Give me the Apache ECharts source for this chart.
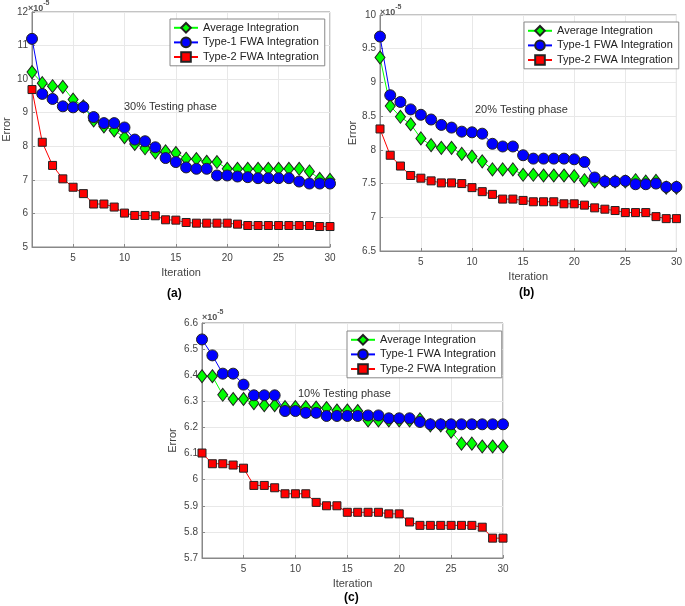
<!DOCTYPE html>
<html>
<head>
<meta charset="utf-8">
<script src="https://cdn.jsdelivr.net/npm/echarts@6/dist/echarts.min.js"></script>
<style>
html,body{margin:0;padding:0;background:#fff;}
#chart{width:685px;height:606px;}
</style>
</head>
<body>
<div id="chart"></div>
<script>
// ---- data (values in units of 1e-5) ----
var iterations = ['1','2','3','4','5','6','7','8','9','10','11','12','13','14','15','16','17','18','19','20','21','22','23','24','25','26','27','28','29','30'];
var seriesNames = ['Average Integration', 'Type-1 FWA Integration', 'Type-2 FWA Integration'];

// (a) 30% Testing phase
var avgA = [10.21,9.88,9.79,9.77,9.39,9.19,8.77,8.59,8.47,8.27,8.07,7.94,7.82,7.85,7.80,7.63,7.62,7.54,7.53,7.33,7.33,7.33,7.33,7.33,7.33,7.33,7.33,7.25,7.03,7.00];
var t1A  = [11.20,9.56,9.41,9.19,9.16,9.17,8.87,8.69,8.69,8.56,8.20,8.15,7.97,7.65,7.53,7.37,7.33,7.33,7.13,7.13,7.10,7.08,7.05,7.05,7.05,7.05,6.95,6.89,6.89,6.89];
var t2A  = [9.69,8.12,7.43,7.03,6.78,6.59,6.28,6.28,6.19,6.01,5.94,5.94,5.93,5.81,5.80,5.73,5.71,5.71,5.71,5.71,5.68,5.64,5.64,5.64,5.64,5.64,5.64,5.64,5.61,5.61];

// (b) 20% Testing phase
var avgB = [9.37,8.65,8.49,8.38,8.17,8.07,8.03,8.03,7.94,7.90,7.83,7.71,7.71,7.71,7.63,7.63,7.62,7.62,7.62,7.61,7.55,7.53,7.53,7.53,7.53,7.55,7.53,7.54,7.44,7.44];
var t1B  = [9.68,8.81,8.71,8.60,8.52,8.45,8.37,8.33,8.27,8.26,8.24,8.09,8.05,8.05,7.92,7.87,7.87,7.87,7.87,7.86,7.82,7.59,7.53,7.53,7.54,7.49,7.49,7.50,7.45,7.45];
var t2B  = [8.31,7.92,7.76,7.62,7.58,7.54,7.51,7.51,7.50,7.44,7.38,7.34,7.27,7.27,7.25,7.23,7.23,7.23,7.20,7.20,7.18,7.14,7.12,7.10,7.07,7.07,7.07,7.01,6.98,6.98];

// (c) 10% Testing phase
var avgC = [6.396,6.396,6.325,6.309,6.309,6.293,6.285,6.285,6.278,6.278,6.278,6.276,6.274,6.265,6.265,6.263,6.227,6.227,6.227,6.227,6.227,6.231,6.208,6.208,6.184,6.138,6.138,6.127,6.127,6.127];
var t1C  = [6.537,6.476,6.406,6.406,6.364,6.323,6.323,6.323,6.263,6.263,6.256,6.256,6.244,6.244,6.244,6.244,6.246,6.246,6.235,6.235,6.235,6.221,6.212,6.212,6.212,6.212,6.212,6.212,6.212,6.212];
var t2C  = [6.102,6.061,6.061,6.056,6.044,5.978,5.978,5.969,5.946,5.946,5.946,5.913,5.900,5.900,5.875,5.875,5.875,5.875,5.869,5.869,5.838,5.825,5.825,5.825,5.825,5.825,5.825,5.818,5.776,5.776];

var panelTitles = ['30% Testing phase', '20% Testing phase', '10% Testing phase'];
var panelLabels = ['(a)', '(b)', '(c)'];
var yRanges = [[5, 12, 1], [6.5, 10, 0.5], [5.7, 6.6, 0.1]];

// ---- layout / style ----
var FONT = '"Liberation Sans", Arial, Helvetica, sans-serif';
var grids = [
  {left: 28, top: 12, width: 302, height: 235},
  {left: 380, top: 15, width: 300, height: 236},
  {left: 202, top: 323, width: 301, height: 235}
];
var panelData = [[avgA, t1A, t2A], [avgB, t1B, t2B], [avgC, t1C, t2C]];
var colors = ['#00ff00', '#0000ff', '#ff0000'];
var symbols = ['diamond', 'circle', 'rect'];
var symbolSizes = [[10, 13], 11, 8];

var everyFifth = function (idx) { return (idx + 1) % 5 === 0; };

var xAxes = [], yAxes = [], series = [], legends = [], titles = [];
var legendPos = [[170, 19], [524, 22], [347, 331]];
var titlePos = [[124, 101], [475, 104], [298, 388]];
var labelPos = [[167, 288], [519, 287], [344, 592]];
var expPos = [[28, 0], [380, 4], [202, 309]];

for (var p = 0; p < 3; p++) {
  var g = grids[p];
  xAxes.push({
    type: 'category', gridIndex: p, data: iterations, boundaryGap: false,
    name: 'Iteration', nameLocation: 'middle', nameGap: 20,
    nameTextStyle: {color: '#444', fontFamily: FONT, fontSize: 11},
    axisLine: {show: true, lineStyle: {color: '#888'}},
    axisTick: {show: true, inside: true, length: 3, interval: everyFifth, lineStyle: {color: '#888'}},
    axisLabel: {interval: everyFifth, color: '#444', fontFamily: FONT, fontSize: 10, margin: 6},
    splitLine: {show: true, interval: everyFifth, lineStyle: {color: '#e8e8e8'}}
  });
  var yr = yRanges[p];
  yAxes.push({
    type: 'value', gridIndex: p, min: yr[0], max: yr[1], interval: yr[2],
    name: 'Error', nameLocation: 'middle', nameGap: p === 2 ? 24 : 20,
    nameTextStyle: {color: '#444', fontFamily: FONT, fontSize: 11},
    axisLine: {show: true, lineStyle: {color: '#888'}},
    axisTick: {show: true, inside: true, length: 3, lineStyle: {color: '#888'}},
    axisLabel: {color: '#444', fontFamily: FONT, fontSize: 10, margin: 4,
      formatter: function (v) { return String(Math.round(v * 10) / 10); }},
    splitLine: {show: true, lineStyle: {color: '#e8e8e8'}}
  });
  for (var s = 0; s < 3; s++) {
    series.push({
      name: seriesNames[s], type: 'line', xAxisIndex: p, yAxisIndex: p,
      data: panelData[p][s], symbol: symbols[s], symbolSize: symbolSizes[s],
      showAllSymbol: true, animation: false,
      lineStyle: {color: colors[s], width: 1},
      itemStyle: {color: colors[s], borderColor: '#222', borderWidth: 1}
    });
  }
  legends.push({
    left: legendPos[p][0], top: legendPos[p][1], orient: 'vertical',
    data: seriesNames, itemGap: 3, itemWidth: 24, itemHeight: 12,
    padding: [3, 6, 3, 3], borderColor: '#888', borderWidth: 1, backgroundColor: '#fff',
    textStyle: {color: '#222', fontFamily: FONT, fontSize: 11}, selectedMode: false
  });
  titles.push({
    text: panelTitles[p], left: titlePos[p][0], top: titlePos[p][1], padding: 0,
    textStyle: {color: '#333', fontFamily: FONT, fontSize: 11, fontWeight: 'normal'}
  });
  titles.push({
    text: panelLabels[p], left: labelPos[p][0], top: labelPos[p][1], padding: 0,
    textStyle: {color: '#000', fontFamily: FONT, fontSize: 12, fontWeight: 'bold'}
  });
  titles.push({
    text: '{a|×10}{b|-5}', left: expPos[p][0], top: expPos[p][1], padding: 0,
    textStyle: {rich: {
      a: {color: '#555', fontFamily: FONT, fontSize: 9, padding: [4, 0, 0, 0]},
      b: {color: '#555', fontFamily: FONT, fontSize: 7, verticalAlign: 'top'}
    }}
  });
}

var chart = echarts.init(document.getElementById('chart'), null, {renderer: 'canvas'});
chart.setOption({
  backgroundColor: '#fff',
  animation: false,
  grid: grids.map(function (g) {
    return {left: g.left, top: g.top, width: g.width, height: g.height, show: true,
      borderColor: '#888', borderWidth: 1, backgroundColor: '#fff', containLabel: false};
  }),
  xAxis: xAxes, yAxis: yAxes, series: series, legend: legends, title: titles
});
</script>
</body>
</html>
